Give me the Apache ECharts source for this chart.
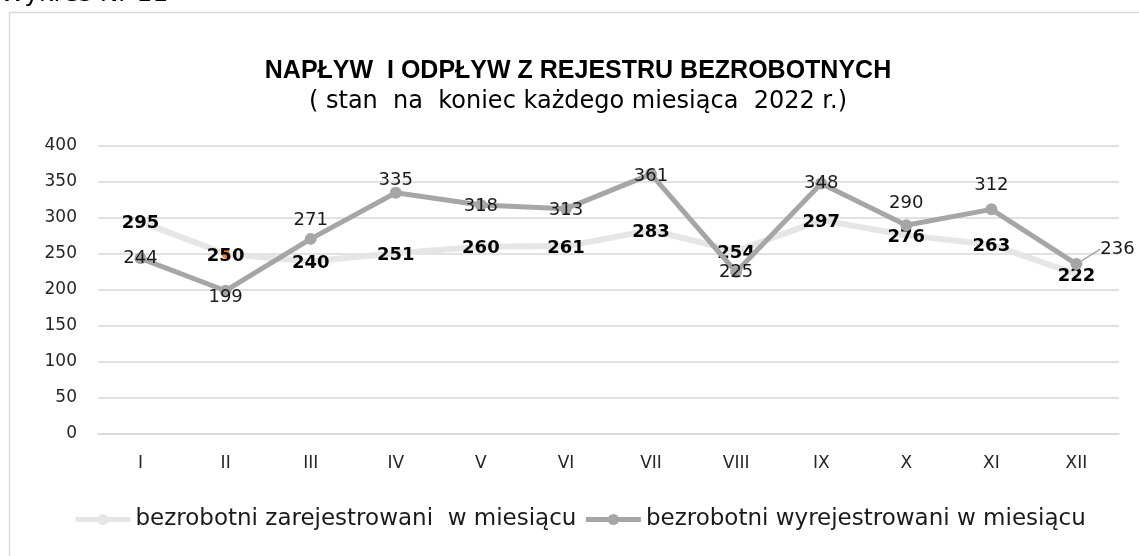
<!DOCTYPE html>
<html>
<head>
<meta charset="utf-8">
<script src="https://cdn.jsdelivr.net/npm/echarts@6/dist/echarts.min.js"></script>
<style>
html,body{margin:0;padding:0;background:#fff;}
#c{width:1139px;height:556px;}
</style>
</head>
<body>
<div id="c"></div>
<script>
// ---- data ----
const categories = ['I','II','III','IV','V','VI','VII','VIII','IX','X','XI','XII'];
const registered = [295,250,240,251,260,261,283,254,297,276,263,222];
const deregistered = [244,199,271,335,318,313,361,225,348,290,312,236];
const seriesNames = ['bezrobotni zarejestrowani  w miesiącu','bezrobotni wyrejestrowani w miesiącu'];
const yMin = 0, yMax = 400, yStep = 50;

// ---- chart ----
const FONT = "'DejaVu Sans',sans-serif";
// label nudges (style only)
const darkDy = [0,7,-19,-12,1,2,2,0,0,-22,-24,0];

const regData = registered.map((v,i)=> i===1
  ? {value:v, itemStyle:{color:'#ed7d31'}}
  : v);
const deregData = deregistered.map((v,i)=> i===11
  ? {value:v, labelLine:{show:true, lineStyle:{color:'#a6a6a6', width:1.3}}}
  : v);

const chart = echarts.init(document.getElementById('c'), null, {renderer:'canvas'});
chart.setOption({
  animation:false,
  backgroundColor:'#fff',
  graphic:[
    {type:'rect', left:7, top:10, shape:{x:0,y:0,width:1150,height:560},
     style:{fill:'none', stroke:'#d9d9d9', lineWidth:1.5}, silent:true, z:-10},
    {type:'text', left:0, top:-18, style:{text:'Wykres Nr 11', font:"25px 'DejaVu Sans',sans-serif", fill:'#000'}}
  ],
  title:{
    text:'NAPŁYW  I ODPŁYW Z REJESTRU BEZROBOTNYCH',
    subtext:'( stan  na  koniec każdego miesiąca  2022 r.)',
    left:573, top:54, textAlign:'center', itemGap:6,
    textStyle:{fontFamily:"'Liberation Sans',sans-serif", fontWeight:'bold', fontSize:25, color:'#000'},
    subtextStyle:{fontFamily:FONT, fontSize:24, color:'#000'}
  },
  legend:{
    top:503, left:68, itemWidth:55, itemHeight:14, itemGap:7,
    lineStyle:{width:5},
    textStyle:{fontFamily:FONT, fontSize:23, color:'#1a1a1a'},
    data:seriesNames
  },
  grid:{left:98, right:20, top:146, bottom:122, containLabel:false},
  xAxis:{
    type:'category', data:categories, boundaryGap:true,
    axisLine:{show:true, lineStyle:{color:'#d9d9d9', width:1.5}},
    axisTick:{show:false},
    axisLabel:{fontFamily:FONT, fontSize:17, color:'#262626', margin:21}
  },
  yAxis:{
    type:'value', min:yMin, max:yMax, interval:yStep,
    axisLine:{show:false}, axisTick:{show:false},
    splitLine:{lineStyle:{color:'#d9d9d9', width:1.5}},
    axisLabel:{fontFamily:FONT, fontSize:17, color:'#262626', margin:21}
  },
  series:[
    {
      name:seriesNames[0], type:'line', data:regData,
      symbol:'circle', symbolSize:8,
      lineStyle:{color:'#e6e6e6', width:6},
      itemStyle:{color:'#e6e6e6'},
      label:{show:true, position:'inside', offset:[0,2], fontFamily:FONT, fontWeight:'bold', fontSize:18, color:'#000'},
      z:2
    },
    {
      name:seriesNames[1], type:'line', data:deregData,
      symbol:'circle', symbolSize:12,
      lineStyle:{color:'#a6a6a6', width:5},
      itemStyle:{color:'#a6a6a6'},
      label:{show:true, position:'inside', fontFamily:FONT, fontSize:18, color:'#1a1a1a'},
      labelLayout:function(p){
        if(p.dataIndex===11) return {dx:41, dy:-15};
        return {dx:0, dy:darkDy[p.dataIndex]};
      },
      z:3
    }
  ]
});
</script>
</body>
</html>
